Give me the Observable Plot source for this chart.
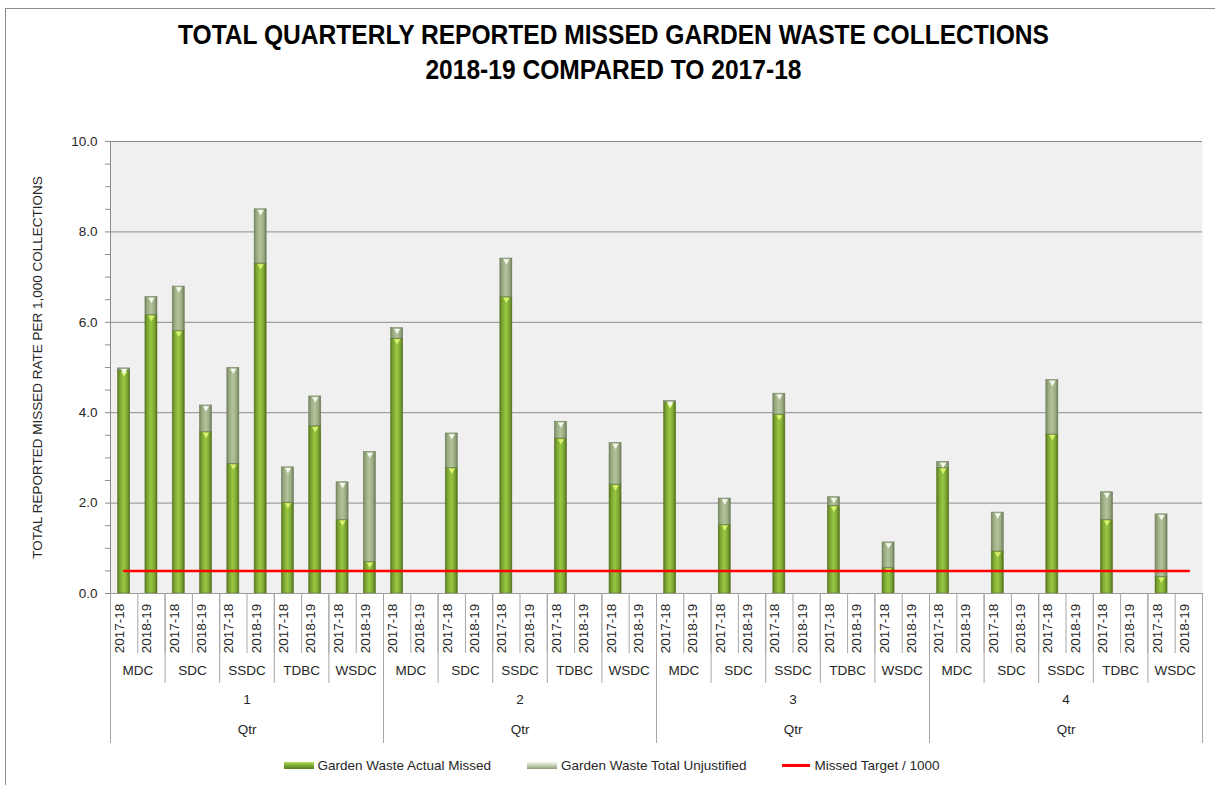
<!DOCTYPE html>
<html>
<head>
<meta charset="utf-8">
<script src="https://cdn.jsdelivr.net/npm/d3@7"></script>
<script src="https://cdn.jsdelivr.net/npm/@observablehq/plot@0.6"></script>
<style>
  html, body { margin: 0; padding: 0; background: #fff; width: 1215px; height: 785px; overflow: hidden; }
  #border { position: absolute; left: 5px; top: 8px; width: 1240px; height: 820px; border: 1px solid #8c8c8c; box-sizing: border-box; }
  #title { position: absolute; left: 6px; top: 18px; width: 1215px; text-align: center;
           font-family: "Liberation Sans Narrow", "Arial Narrow", "Liberation Sans", Arial, sans-serif; font-weight: bold;
           font-size: 27px; line-height: 35px; color: #000; transform: scaleX(0.91); transform-origin: 607px 0; }
  #chart { position: absolute; left: 0; top: 120px; }
  #legend { position: absolute; left: 4px; top: 758px; width: 1215px; display: flex; justify-content: center;
            align-items: center; gap: 36px; font-family: "Liberation Sans", Arial, sans-serif; font-size: 13.5px; color: #262626; }
  .item { display: flex; align-items: center; gap: 4px; }
  .sw { width: 30px; height: 7px; }
  .sw.green { background: linear-gradient(#b5dc55, #7ea834 50%, #5d7d22); }
  .sw.grey { background: linear-gradient(#f4f7ee, #c3d0b0 50%, #8d9c78); }
  .sw.red { height: 2.5px; background: #ff0000; width: 28px; }
</style>
</head>
<body>
<div id="border"></div>
<div id="title">TOTAL QUARTERLY REPORTED MISSED GARDEN WASTE COLLECTIONS<br>2018-19 COMPARED TO 2017-18</div>
<div id="chart"></div>
<div id="legend">
  <div class="item"><div class="sw green"></div><span>Garden Waste Actual Missed</span></div>
  <div class="item"><div class="sw grey"></div><span>Garden Waste Total Unjustified</span></div>
  <div class="item"><div class="sw red"></div><span>Missed Target / 1000</span></div>
</div>
<script>
// ---- Data ----
const quarters = ["1", "2", "3", "4"];
const councils = ["MDC", "SDC", "SSDC", "TDBC", "WSDC"];
const years = ["2017-18", "2018-19"];

// Order: quarter -> council -> year (40 slots)
const actualMissed = [
  4.93, 6.16, 5.81, 3.57, 2.87, 7.30, 2.01, 3.70, 1.63, 0.70,
  5.64, null, 2.78, null, 6.56, null, 3.43, null, 2.41, null,
  4.22, null, 1.52, null, 3.96, null, 1.94, null, 0.57, null,
  2.78, null, 0.93, null, 3.52, null, 1.63, null, 0.37, null
];
const totalUnjustified = [
  0.05, 0.40, 0.98, 0.59, 2.12, 1.20, 0.78, 0.66, 0.83, 2.43,
  0.23, null, 0.76, null, 0.85, null, 0.37, null, 0.92, null,
  0.04, null, 0.58, null, 0.46, null, 0.19, null, 0.56, null,
  0.13, null, 0.86, null, 1.20, null, 0.61, null, 1.38, null
];
const missedTarget = [
  0.5, 0.5, 0.5, 0.5, 0.5, 0.5, 0.5, 0.5, 0.5, 0.5,
  0.5, 0.5, 0.5, 0.5, 0.5, 0.5, 0.5, 0.5, 0.5, 0.5,
  0.5, 0.5, 0.5, 0.5, 0.5, 0.5, 0.5, 0.5, 0.5, 0.5,
  0.5, 0.5, 0.5, 0.5, 0.5, 0.5, 0.5, 0.5, 0.5, 0.5
];
const yTicks = [0, 0.5, 1, 1.5, 2, 2.5, 3, 3.5, 4, 4.5, 5, 5.5, 6, 6.5, 7, 7.5, 8, 8.5, 9, 9.5, 10];
const yLabeled = [0, 2, 4, 6, 8, 10];
const yAxisTitle = "TOTAL REPORTED MISSED RATE PER 1,000 COLLECTIONS";
const quarterTitle = "Qtr";

// ---- Build table ----
const rows = [];
quarters.forEach(q => councils.forEach(c => years.forEach(y => {
  const i = rows.length;
  rows.push({ key: `${q}|${c}|${y}`, q, c, y, actual: actualMissed[i], unj: totalUnjustified[i], target: missedTarget[i] });
})));
const keys = rows.map(d => d.key);
const present = rows.filter(d => d.actual != null);

const W = 1215, H = 630, mL = 110, mR = 13, mT = 21, mB = 157;
const step = (W - mL - mR) / keys.length;
const font = "'Liberation Sans', Arial, sans-serif";

const svg = Plot.plot({
  width: W, height: H,
  marginLeft: mL, marginRight: mR, marginTop: mT, marginBottom: mB,
  style: { fontFamily: font, fontSize: "13.5px", color: "#262626", background: "transparent", overflow: "visible" },
  x: { type: "band", domain: keys, paddingInner: 0.56, paddingOuter: 0.28, round: false, axis: null },
  y: { domain: [0, 10], axis: null },
  marks: [
    Plot.frame({ fill: "#f0f0f0", stroke: null }),
    Plot.ruleY([2, 4, 6, 8, 10], { stroke: "#8c8c8c", strokeWidth: 1 }),
    // y axis
    Plot.axisY(yTicks, { anchor: "left", tickSize: 5, tickPadding: 8, stroke: "#8c8c8c", fill: "#262626",
      tickFormat: d => yLabeled.includes(d) ? d.toFixed(1) : "", label: null, fontSize: 13.5 }),
    Plot.ruleX([keys[0]], { dx: -step / 2, stroke: "#8c8c8c" }),
    // bars
    Plot.barY(present, { x: "key", y1: 0, y2: "actual", fill: "url(#gGreen)", stroke: "#5a7a22", strokeWidth: 0.6 }),
    Plot.barY(present, { x: "key", y1: "actual", y2: d => d.actual + d.unj, fill: "url(#gGrey)", stroke: "#6f7d5e", strokeWidth: 0.6 }),
    Plot.dot(present, { x: "key", y: "actual", symbol: "triangle", rotate: 180, r: 2.3, dy: 2.5, fill: "#d9f26c", stroke: null }),
    Plot.dot(present, { x: "key", y: d => d.actual + d.unj, symbol: "triangle", rotate: 180, r: 2.3, dy: 2.5, fill: "#f4f8ec", stroke: null }),
    // target line
    Plot.lineY(rows, { x: "key", y: "target", stroke: "#ff0000", strokeWidth: 2.5 }),
    // baseline
    Plot.ruleY([0], { stroke: "#9a9a9a" }),
    // category separators
    Plot.axisX(keys, { anchor: "bottom", tickSize: 60, tickFormat: () => "", dx: -step / 2, stroke: "#a6a6a6", label: null }),
    Plot.axisX(rows.filter(d => d.y === years[0]).map(d => d.key), { anchor: "bottom", tickSize: 90, tickFormat: () => "", dx: -step / 2, stroke: "#a6a6a6", label: null }),
    Plot.axisX(rows.filter(d => d.y === years[0] && d.c === councils[0]).map(d => d.key), { anchor: "bottom", tickSize: 150, tickFormat: () => "", dx: -step / 2, stroke: "#a6a6a6", label: null }),
    Plot.axisX([keys[keys.length - 1]], { anchor: "bottom", tickSize: 150, tickFormat: () => "", dx: step / 2, stroke: "#a6a6a6", label: null }),
    // category labels
    Plot.text(rows, { x: "key", frameAnchor: "bottom", text: "y", rotate: -90, dy: 35, fontSize: 13.5, fill: "#262626" }),
    Plot.text(rows.filter(d => d.y === years[0]), { x: "key", frameAnchor: "bottom", text: "c", dx: step / 2, dy: 81, fontSize: 13.5, fill: "#262626" }),
    Plot.text(rows.filter(d => d.y === years[0] && d.c === councils[2]), { x: "key", frameAnchor: "bottom", text: "q", dx: step / 2, dy: 110, fontSize: 13.5, fill: "#262626" }),
    Plot.text(rows.filter(d => d.y === years[0] && d.c === councils[2]), { x: "key", frameAnchor: "bottom", text: () => quarterTitle, dx: step / 2, dy: 140, fontSize: 13.5, fill: "#262626" }),
    // y axis title
    Plot.text([yAxisTitle], { frameAnchor: "left", textAnchor: "middle", text: d => d, rotate: -90, dx: -73, fontSize: 13.5, fill: "#262626" })
  ]
});

// gradients for the bevelled bar look
const defs = d3.select(svg).insert("defs", ":first-child");
const gg = defs.append("linearGradient").attr("id", "gGreen").attr("x1", 0).attr("x2", 1).attr("y1", 0).attr("y2", 0);
[["0%", "#56741e"], ["18%", "#7aa332"], ["50%", "#98c842"], ["80%", "#7ba534"], ["100%", "#4e6a1a"]]
  .forEach(([o, c]) => gg.append("stop").attr("offset", o).attr("stop-color", c));
const gr = defs.append("linearGradient").attr("id", "gGrey").attr("x1", 0).attr("x2", 1).attr("y1", 0).attr("y2", 0);
[["0%", "#76855f"], ["20%", "#9aab82"], ["50%", "#b3c39b"], ["80%", "#9aab82"], ["100%", "#6a7858"]]
  .forEach(([o, c]) => gr.append("stop").attr("offset", o).attr("stop-color", c));

document.getElementById("chart").appendChild(svg);
</script>
</body>
</html>
